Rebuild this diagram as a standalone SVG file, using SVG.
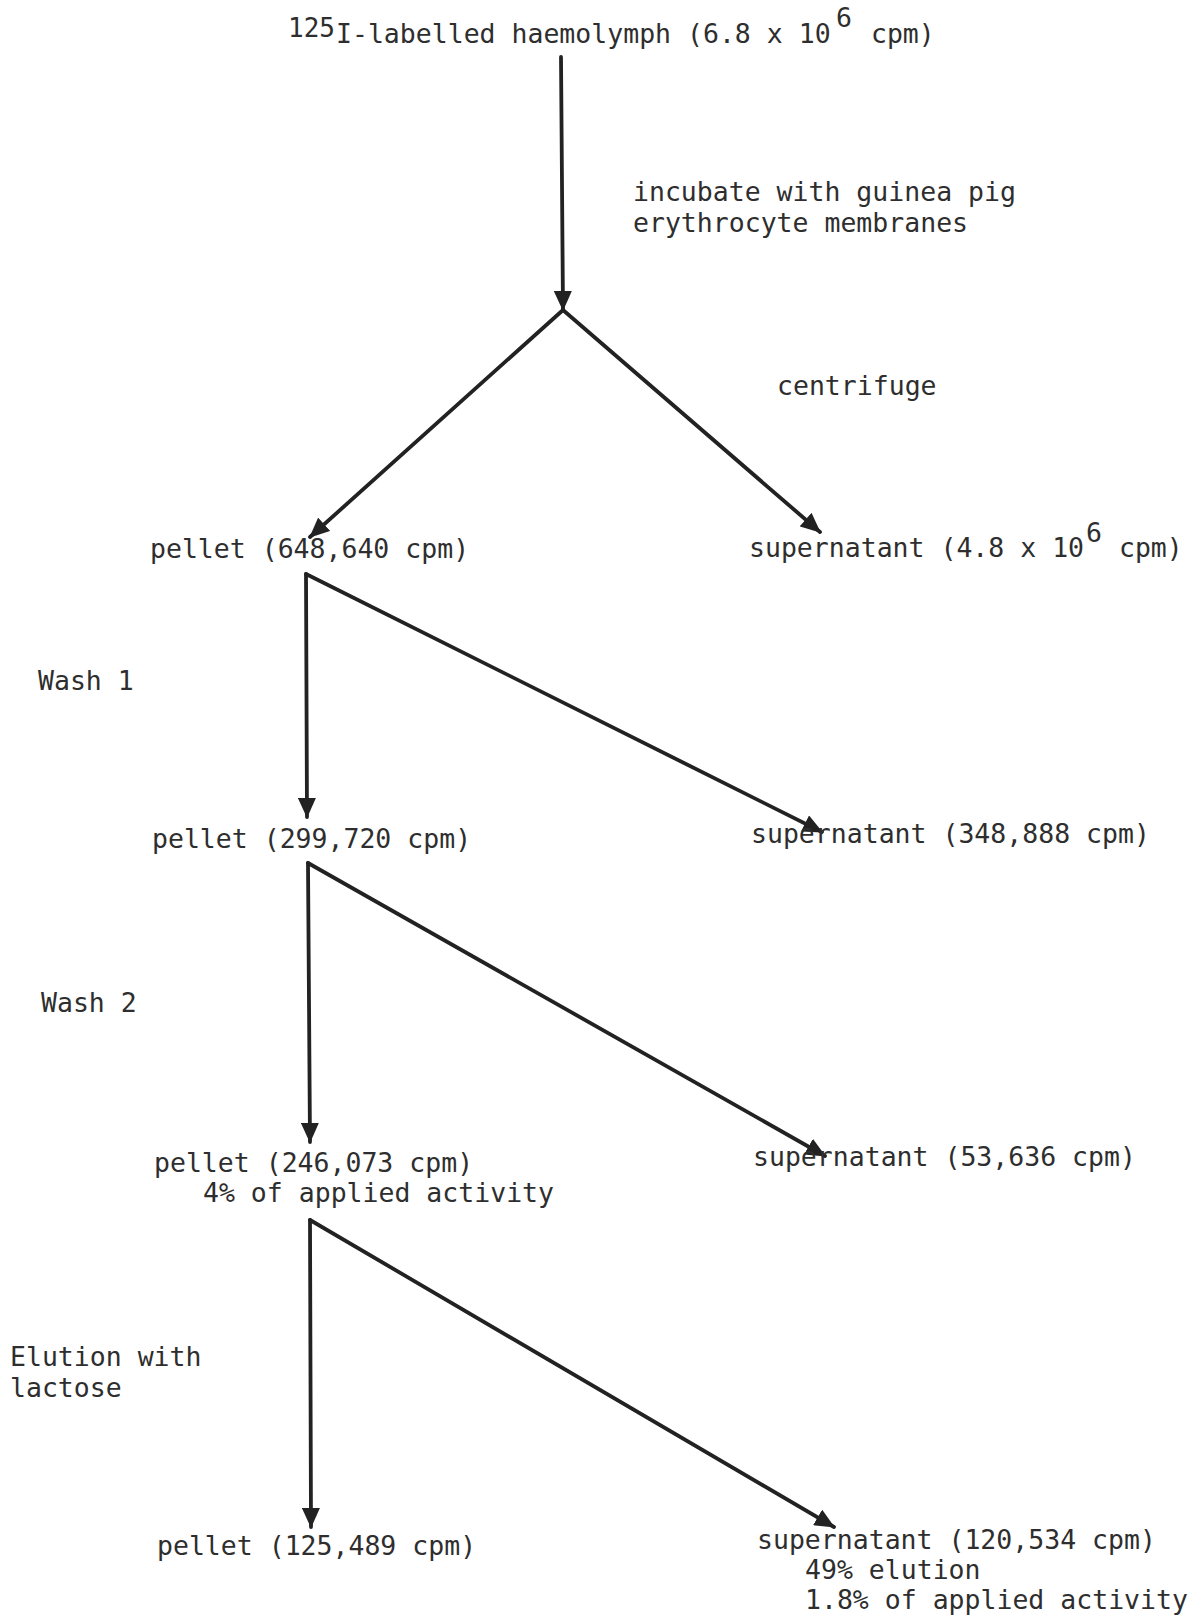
<svg xmlns="http://www.w3.org/2000/svg" width="1198" height="1621" viewBox="0 0 1198 1621">
<style>
text{font-family:"DejaVu Sans Mono","Liberation Mono",monospace;font-size:26.5px;fill:#2e2e2e}
.sup{font-size:26px}
.ln{stroke:#222;stroke-width:3.8;fill:none;stroke-linecap:round}
</style>
<defs>
<marker id="ah" markerUnits="userSpaceOnUse" markerWidth="20" markerHeight="18" viewBox="0 0 20 18" refX="19" refY="9" orient="auto">
<path d="M0,0 L20,9 L0,18 Z" fill="#222"/>
</marker>
</defs>
<rect width="1198" height="1621" fill="#fff"/>
<g id="connectors">
<line class="ln" x1="561" y1="57" x2="563" y2="310" marker-end="url(#ah)"/>
<line class="ln" x1="563" y1="310" x2="820" y2="532" marker-end="url(#ah)"/>
<line class="ln" x1="563" y1="310" x2="310" y2="537" marker-end="url(#ah)"/>
<line class="ln" x1="306" y1="574" x2="307" y2="817" marker-end="url(#ah)"/>
<line class="ln" x1="306" y1="574" x2="822" y2="832" marker-end="url(#ah)"/>
<line class="ln" x1="308" y1="863" x2="310" y2="1142" marker-end="url(#ah)"/>
<line class="ln" x1="308" y1="863" x2="825" y2="1156" marker-end="url(#ah)"/>
<line class="ln" x1="310" y1="1220" x2="311" y2="1527" marker-end="url(#ah)"/>
<line class="ln" x1="310" y1="1220" x2="834" y2="1527" marker-end="url(#ah)"/>
</g>
<g id="n-haemolymph">
<text><tspan class="sup" x="288" y="37">125</tspan><tspan x="336" y="43">I-labelled haemolymph (6.8 x 10</tspan><tspan x="836" y="27">6</tspan><tspan x="855" y="43"> cpm)</tspan></text>
</g>
<g id="n-incubate">
<text x="633" y="201">incubate with guinea pig</text>
<text x="633" y="232">erythrocyte membranes</text>
</g>
<g id="n-centrifuge"><text x="777" y="395">centrifuge</text></g>
<g id="n-pellet0"><text x="150" y="558">pellet (648,640 cpm)</text></g>
<g id="n-super0"><text><tspan x="749" y="557">supernatant (4.8 x 10</tspan><tspan x="1086" y="542">6</tspan><tspan x="1103" y="557"> cpm)</tspan></text></g>
<g id="n-wash1"><text x="38" y="690">Wash 1</text></g>
<g id="n-pellet1"><text x="152" y="848">pellet (299,720 cpm)</text></g>
<g id="n-super1"><text x="751" y="843">supernatant (348,888 cpm)</text></g>
<g id="n-wash2"><text x="41" y="1012">Wash 2</text></g>
<g id="n-pellet2">
<text x="154" y="1172">pellet (246,073 cpm)</text>
<text x="203" y="1202">4% of applied activity</text>
</g>
<g id="n-super2"><text x="753" y="1166">supernatant (53,636 cpm)</text></g>
<g id="n-elution">
<text x="10" y="1366">Elution with</text>
<text x="10" y="1397">lactose</text>
</g>
<g id="n-pellet3"><text x="157" y="1555">pellet (125,489 cpm)</text></g>
<g id="n-super3">
<text x="757" y="1549">supernatant (120,534 cpm)</text>
<text x="805" y="1579">49% elution</text>
<text x="805" y="1609">1.8% of applied activity</text>
</g>
</svg>
